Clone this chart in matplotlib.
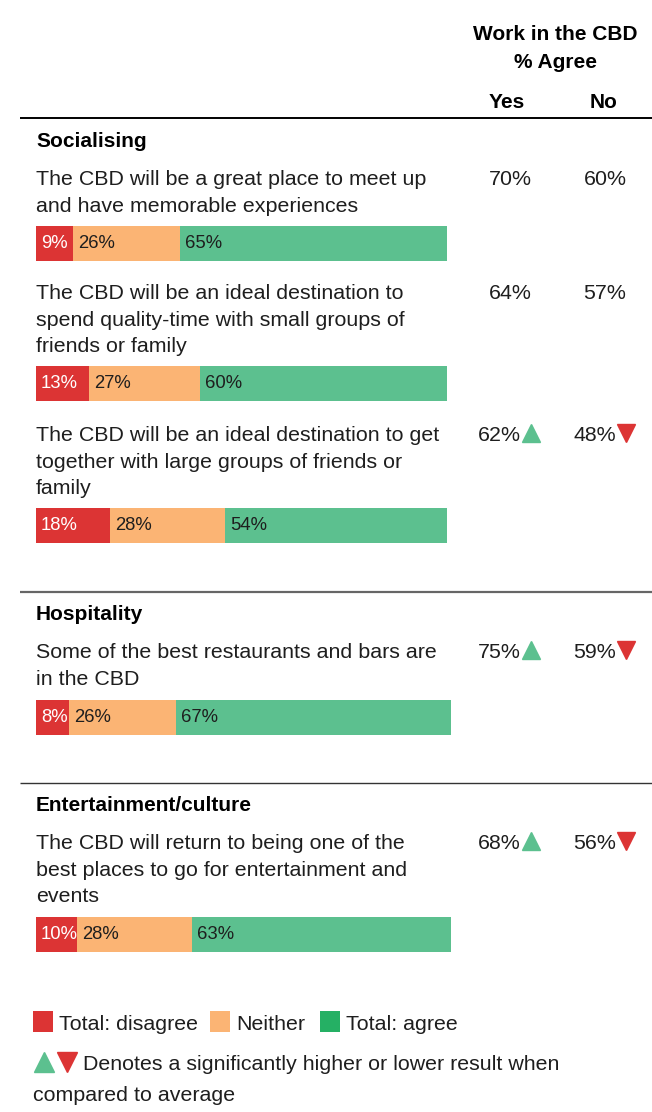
import matplotlib
matplotlib.use('Agg')
import matplotlib.pyplot as plt
import numpy as np

plt.rcParams['font.family'] = ['Liberation Sans', 'DejaVu Sans']

# survey data
sections = ['Socialising', 'Hospitality', 'Entertainment/culture']
statements = [
    ['The CBD will be a great place to meet up', 'and have memorable experiences'],
    ['The CBD will be an ideal destination to', 'spend quality-time with small groups of', 'friends or family'],
    ['The CBD will be an ideal destination to get', 'together with large groups of friends or', 'family'],
    ['Some of the best restaurants and bars are', 'in the CBD'],
    ['The CBD will return to being one of the', 'best places to go for entertainment and', 'events'],
]
disagree = [9, 13, 18, 8, 10]
neither = [26, 27, 28, 26, 28]
agree = [65, 60, 54, 67, 63]
work_yes = [70, 64, 62, 75, 68]
work_no = [60, 57, 48, 59, 56]
# 1 = significantly higher, -1 = significantly lower, 0 = no difference
sig_yes = [0, 0, 1, 1, 1]
sig_no = [0, 0, -1, -1, -1]
legend_labels = ['Total: disagree', 'Neither', 'Total: agree']

RED = '#DC3434'
ORANGE = '#FBB474'
GREEN = '#5CC08F'
GREEN_DARK = '#25B064'
TXT = '#1E1E1E'

# layout (pixels from top)
rule_y = [118, 592, 783]
section_y = [147, 620, 811]
stmt_y = [185, 299, 441, 658, 849]
line_gap = 26.7
bar_y = [243.5, 383.5, 525.5, 717.5, 934.5]
bar_h = 35
yes_x, no_x = 510, 605

fig = plt.figure(figsize=(6.52, 11.12), dpi=100)
ax = fig.add_axes([0, 0, 1, 1])
ax.set_xlim(0, 652)
ax.set_ylim(1112, 0)
ax.axis('off')

# bars live in their own axes scaled in percent
px_per_pct = 4.11
bx = fig.add_axes([36 / 652, 0, px_per_pct * 105 / 652, 1])
bx.set_xlim(0, 105)
bx.set_ylim(1112, 0)
bx.axis('off')

fs_body = 15.4
fs_head = 15
fs_bar = 13.3

# column header
ax.text(555, 40, 'Work in the CBD', ha='center', va='baseline', fontsize=fs_head, fontweight='bold', color='black')
ax.text(555, 68, '% Agree', ha='center', va='baseline', fontsize=fs_head, fontweight='bold', color='black')
ax.text(507, 108, 'Yes', ha='center', va='baseline', fontsize=fs_head, fontweight='bold', color='black')
ax.text(604, 108, 'No', ha='center', va='baseline', fontsize=fs_head, fontweight='bold', color='black')

for y, c, lw in zip(rule_y, ['black', '#666666', '#333333'], [1.4, 1.6, 1.0]):
    ax.plot([20, 652], [y, y], color=c, lw=lw, solid_capstyle='butt')

for name, y in zip(sections, section_y):
    ax.text(36, y, name, ha='left', va='baseline', fontsize=fs_head, fontweight='bold', color='black')

segs = np.array([disagree, neither, agree])
lefts = np.vstack([np.zeros(len(disagree)), np.cumsum(segs, axis=0)[:-1]])
colors = [RED, ORANGE, GREEN]
label_colors = ['white', TXT, TXT]

for i, lines in enumerate(statements):
    for k, line in enumerate(lines):
        ax.text(36, stmt_y[i] + k * line_gap, line, ha='left', va='baseline', fontsize=fs_body, color=TXT)

    for s in range(3):
        bx.barh(bar_y[i], segs[s, i], left=lefts[s, i], height=bar_h, color=colors[s], linewidth=0)
        bx.annotate(f'{segs[s, i]}%', xy=(lefts[s, i], bar_y[i]), xytext=(5, 0), textcoords='offset pixels',
                    ha='left', va='center', fontsize=fs_bar, color=label_colors[s])

    for cx, val, sig in [(yes_x, work_yes[i], sig_yes[i]), (no_x, work_no[i], sig_no[i])]:
        if sig == 0:
            ax.text(cx, stmt_y[i], f'{val}%', ha='center', va='baseline', fontsize=fs_body, color=TXT)
        else:
            ax.text(cx + 11, stmt_y[i], f'{val}%', ha='right', va='baseline', fontsize=fs_body, color=TXT)
            ax.plot(cx + 21, stmt_y[i] - 8, marker='^' if sig > 0 else 'v', markersize=13.5,
                    color=GREEN if sig > 0 else RED, linestyle='none')

# legend
leg_x = [33, 210, 320]
for x, lab, c in zip(leg_x, legend_labels, [RED, ORANGE, GREEN_DARK]):
    ax.add_patch(plt.Rectangle((x, 1011), 20, 21, color=c, linewidth=0))
    ax.text(x + 26, 1030, lab, ha='left', va='baseline', fontsize=fs_body, color=TXT)

ax.plot(43.5, 1062, marker='^', markersize=14, color=GREEN, linestyle='none')
ax.plot(66.5, 1062, marker='v', markersize=14, color=RED, linestyle='none')
ax.text(83, 1070, 'Denotes a significantly higher or lower result when', ha='left', va='baseline',
        fontsize=fs_body, color=TXT)
ax.text(33, 1101, 'compared to average', ha='left', va='baseline', fontsize=fs_body, color=TXT)

fig.savefig('out.png', dpi=100, facecolor='white')
